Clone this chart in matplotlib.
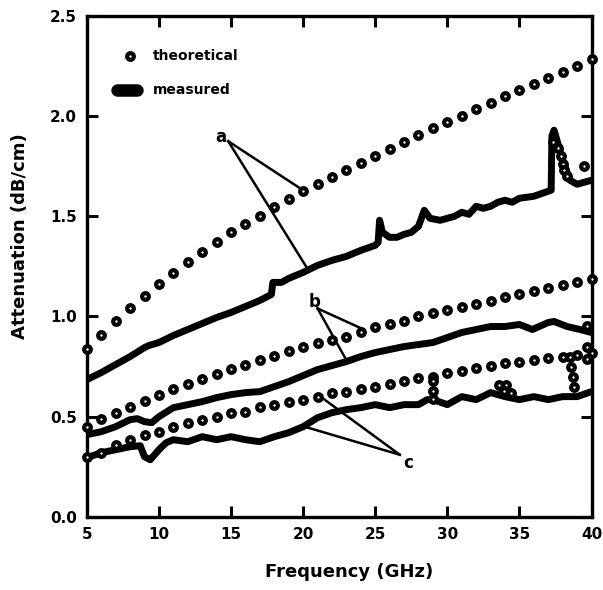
import matplotlib
matplotlib.use("Agg")
import matplotlib.pyplot as plt

# Theoretical curves, one point per GHz from 5 to 40
theo_f = list(range(5, 41))
theo_a = [0.84, 0.91, 0.975, 1.04, 1.10, 1.16, 1.215, 1.27, 1.32, 1.37, 1.42, 1.46,
          1.50, 1.545, 1.585, 1.625, 1.66, 1.695, 1.73, 1.765, 1.80, 1.835, 1.87, 1.905,
          1.94, 1.97, 2.00, 2.035, 2.065, 2.10, 2.13, 2.16, 2.19, 2.22, 2.25, 2.285]
theo_b = [0.45, 0.49, 0.52, 0.55, 0.58, 0.61, 0.64, 0.665, 0.69, 0.715, 0.74, 0.76,
          0.785, 0.805, 0.83, 0.85, 0.87, 0.885, 0.90, 0.925, 0.945, 0.96, 0.975, 1.0,
          1.015, 1.03, 1.045, 1.06, 1.075, 1.095, 1.11, 1.125, 1.14, 1.155, 1.17, 1.185]
theo_c = [0.30, 0.32, 0.36, 0.385, 0.41, 0.425, 0.45, 0.47, 0.485, 0.50, 0.52, 0.525,
          0.55, 0.56, 0.575, 0.585, 0.60, 0.62, 0.625, 0.64, 0.65, 0.665, 0.68, 0.695,
          0.70, 0.72, 0.73, 0.745, 0.755, 0.77, 0.775, 0.785, 0.795, 0.80, 0.81, 0.82]

# extra circles around the resonances
extra_f = [37.3, 37.7, 37.9, 38.0, 38.1, 38.3, 39.5,
           29.0, 29.0, 29.0, 33.6, 34.1, 33.9, 34.4,
           38.5, 38.6, 38.7, 38.8, 39.7, 39.7, 39.7]
extra_v = [1.87, 1.84, 1.80, 1.76, 1.73, 1.70, 1.75,
           0.68, 0.63, 0.59, 0.66, 0.66, 0.63, 0.62,
           0.80, 0.75, 0.70, 0.65, 0.95, 0.85, 0.79]

# Measured curves
meas_a_f = [5, 6, 7, 8, 9, 9.3, 10, 11, 12, 13, 14, 15, 16, 17, 17.8, 17.9, 18.5, 19, 20,
            21, 22, 23, 24, 25, 25.2, 25.3, 25.5, 26, 26.5, 27, 27.5, 28, 28.4, 28.8,
            29.5, 30, 30.5, 31, 31.5, 32, 32.5, 33, 33.5, 34, 34.5, 35, 36, 37, 37.2,
            37.25, 37.4, 37.6, 38.0, 38.5, 39, 39.5, 40]
meas_a = [0.685, 0.72, 0.76, 0.80, 0.845, 0.855, 0.87, 0.905, 0.935, 0.965, 0.995, 1.02,
          1.05, 1.08, 1.11, 1.17, 1.17, 1.19, 1.22, 1.255, 1.28, 1.30, 1.33, 1.355, 1.37,
          1.48, 1.42, 1.395, 1.395, 1.41, 1.42, 1.45, 1.53, 1.49, 1.48, 1.49, 1.50, 1.52,
          1.51, 1.55, 1.54, 1.55, 1.57, 1.58, 1.57, 1.59, 1.60, 1.625, 1.63, 1.90, 1.93,
          1.88, 1.78, 1.68, 1.66, 1.67, 1.68]

meas_b_f = [5, 6, 7, 8, 8.5, 9, 9.5, 10, 11, 12, 13, 14, 15, 16, 17, 18, 19, 20, 21, 22,
            23, 24, 25, 26, 27, 28, 29, 30, 31, 32, 33, 34, 35, 35.9, 37, 37.4, 38.3,
            39.2, 40]
meas_b = [0.41, 0.425, 0.45, 0.485, 0.49, 0.475, 0.47, 0.50, 0.545, 0.56, 0.575, 0.595,
          0.61, 0.62, 0.625, 0.65, 0.675, 0.705, 0.735, 0.755, 0.775, 0.80, 0.82, 0.835,
          0.85, 0.86, 0.87, 0.895, 0.92, 0.935, 0.95, 0.95, 0.96, 0.935, 0.97, 0.975,
          0.95, 0.935, 0.92]

meas_c_f = [5, 6, 7, 8, 8.7, 9, 9.4, 10, 10.5, 11, 12, 13, 14, 15, 16, 17, 18, 19, 20,
            21, 22, 23, 24, 25, 26, 27, 28, 28.6, 29, 30, 31, 32, 33, 34, 35, 36, 37,
            38, 39, 40]
meas_c = [0.295, 0.32, 0.335, 0.35, 0.355, 0.30, 0.285, 0.335, 0.37, 0.385, 0.375, 0.40,
          0.385, 0.40, 0.385, 0.375, 0.40, 0.42, 0.45, 0.495, 0.52, 0.535, 0.545, 0.56,
          0.545, 0.56, 0.56, 0.585, 0.585, 0.56, 0.60, 0.585, 0.62, 0.60, 0.585, 0.60,
          0.585, 0.60, 0.60, 0.625]

bold = dict(fontweight="bold", family="DejaVu Sans")

fig = plt.figure(figsize=(6.03, 5.90), dpi=100)
ax = fig.add_axes([0.144, 0.124, 0.837, 0.849])

circ = dict(linestyle="none", marker="o", markersize=4.8, markerfacecolor="white",
            markeredgecolor="black", markeredgewidth=3.0, clip_on=False, zorder=3)
meas = dict(color="black", linewidth=5.0, solid_capstyle="round",
            solid_joinstyle="round", zorder=2)

for v in (theo_a, theo_b, theo_c):
    ax.plot(theo_f, v, **circ)
ax.plot(extra_f, extra_v, **circ)

ax.plot(meas_a_f, meas_a, **meas)
ax.plot(meas_b_f, meas_b, **meas)
ax.plot(meas_c_f, meas_c, **meas)

# labels a, b, c with leader lines
lw = 1.8
ax.text(14.3, 1.895, "a", ha="center", va="center", fontsize=12, **bold)
ax.plot([14.8, 20.1], [1.875, 1.625], color="black", lw=lw)
ax.plot([14.8, 20.2], [1.875, 1.25], color="black", lw=lw)
ax.text(20.8, 1.07, "b", ha="center", va="center", fontsize=12, **bold)
ax.plot([21.0, 24.2], [1.04, 0.935], color="black", lw=lw)
ax.plot([21.0, 22.9], [1.04, 0.795], color="black", lw=lw)
ax.text(27.3, 0.27, "c", ha="center", va="center", fontsize=12, **bold)
ax.plot([26.7, 21.2], [0.31, 0.60], color="black", lw=lw)
ax.plot([26.7, 20.1], [0.31, 0.45], color="black", lw=lw)

# legend drawn by hand
ax.plot([8.0], [2.30], **circ)
ax.text(9.6, 2.30, "theoretical", ha="left", va="center", fontsize=10, **bold)
ax.plot([7.1, 8.5], [2.13, 2.13], color="black", linewidth=9, solid_capstyle="round")
ax.text(9.6, 2.13, "measured", ha="left", va="center", fontsize=10, **bold)

ax.set_xlim(5, 40)
ax.set_ylim(0, 2.5)
ax.set_xticks(range(5, 41, 5))
ax.set_yticks([0.0, 0.5, 1.0, 1.5, 2.0, 2.5])
ax.set_yticklabels(["0.0", "0.5", "1.0", "1.5", "2.0", "2.5"])
ax.tick_params(direction="in", length=8, width=2.2, top=True, right=True,
               labelsize=11, pad=7)
for lab in ax.get_xticklabels() + ax.get_yticklabels():
    lab.set_fontweight("bold")
for s in ax.spines.values():
    s.set_linewidth(2.4)

ax.set_xlabel("Frequency (GHz)", fontsize=13, **bold)
ax.set_ylabel("Attenuation (dB/cm)", fontsize=13, **bold)
ax.xaxis.set_label_coords(0.52, -0.092)
ax.yaxis.set_label_coords(-0.115, 0.56)

fig.savefig("out.png", dpi=100)
